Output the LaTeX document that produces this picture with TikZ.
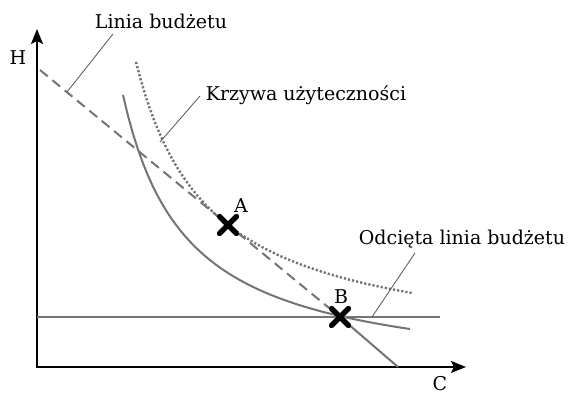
\documentclass[tikz,border=0pt]{standalone}
\usepackage{fontspec}
\setmainfont{DejaVu Serif}
\usetikzlibrary{arrows.meta,shapes.misc}
\definecolor{CurveGray}{HTML}{747474}
\definecolor{LeaderGray}{HTML}{555555}
\tikzset{
  axis/.style={black, line width=0.8pt},
  tip/.tip={Stealth[length=7.5pt,width=6pt,inset=1.5pt]},
  curve/.style={CurveGray, line width=1pt},
  leader/.style={LeaderGray, line width=0.4pt},
  marker/.style={cross out, draw=black, line width=2.5pt, line cap=round, minimum size=6pt, inner sep=0pt},
  lbl/.style={font=\fontsize{9.5}{11}\selectfont, inner sep=0pt}
}

\begin{document}
\begin{tikzpicture}[x=0.5pt,y=-0.5pt]
  \useasboundingbox (0,0) rectangle (570,394);

  % axes
  \coordinate (Ytip) at (37,29);
  \coordinate (Xtip) at (466,367);
  \draw[axis, tip-tip] (Ytip) |- (Xtip);
  \node[lbl] (H) at (18,58) {H};
  \node[lbl] (C) at (440,384) {C};

  % points
  \node[marker] (A) at (228,225) {};
  \node[marker] (B) at (340,317) {};
  \node[lbl] (Alab) at (241,206) {A};
  \node[lbl] (Blab) at (341,297) {B};

  % curves
  \draw[curve, dash pattern=on 1.1pt off 1pt, line width=1.2pt]
    plot[domain=136:412, samples=60] (\x, {353.8 - 212.15/((\x-63.3)/100)});
  \draw[curve]
    plot[domain=123:410, samples=60] (\x, {380.9 - 181.97/((\x-59.35)/100)});

  % budget lines
  \coordinate (Bstart) at (40,70);
  \coordinate (Bend) at (398,367);
  \coordinate (Cut0) at (37,317);
  \coordinate (Cut1) at (440,317);
  \draw[curve, dash pattern=on 5pt off 3pt] (Bstart) -- (B.center);
  \draw[curve] (B.center) -- (Bend);
  \draw[curve] (Cut0) -- (Cut1);
  \node[marker] at (A) {};
  \node[marker] at (B) {};

  % labels with leaders
  \node[lbl] (linia) at (161,21) {Linia budżetu};
  \node[lbl] (krzywa) at (306,95) {Krzywa użyteczności};
  \node[lbl] (odcieta) at (462,239) {Odcięta linia budżetu};
  \coordinate (linia0) at (113,34);
  \coordinate (linia1) at (67,92);
  \coordinate (krzywa0) at (200,96);
  \coordinate (krzywa1) at (160,142);
  \coordinate (odcieta0) at (415,253);
  \coordinate (odcieta1) at (372,317);
  \draw[leader] (linia0) -- (linia1);
  \draw[leader] (krzywa0) -- (krzywa1);
  \draw[leader] (odcieta0) -- (odcieta1);
\end{tikzpicture}
\end{document}
